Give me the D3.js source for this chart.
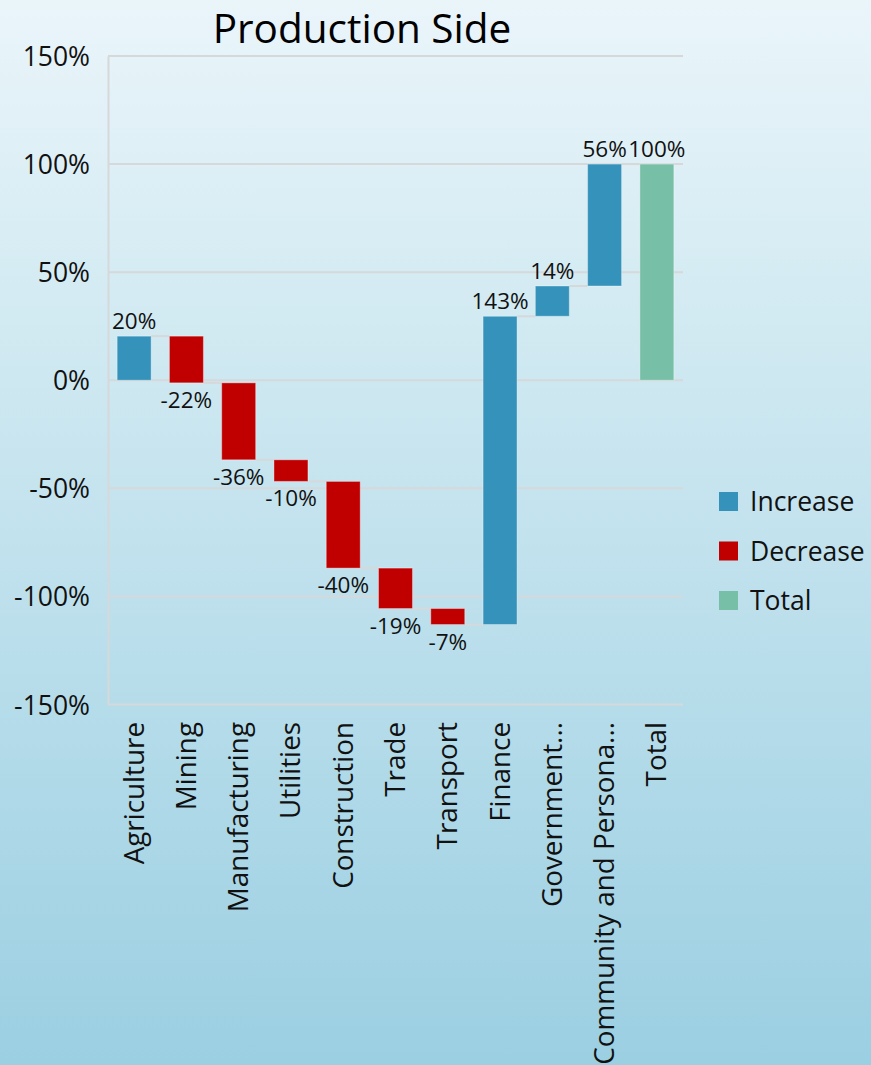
<!DOCTYPE html>
<html>
<head>
<meta charset="utf-8">
<script src="https://cdn.jsdelivr.net/npm/d3@7"></script>
<style>
  html, body { margin: 0; padding: 0; }
  body { width: 871px; height: 1065px; overflow: hidden; font-family: "Open Sans", sans-serif; }
</style>
</head>
<body>
<svg id="chart" width="871" height="1065"></svg>
<script>
// Contribution to growth by sector (share of total change)
const categories = ["Agriculture", "Mining", "Manufacturing", "Utilities", "Construction",
  "Trade", "Transport", "Finance", "Government...", "Community and Persona...", "Total"];
const changes = [20.4, -21.6, -35.6, -10.0, -40.1, -18.7, -7.4, 142.6, 14.0, 56.4, 100.0];
const kinds = ["Increase", "Decrease", "Decrease", "Decrease", "Decrease",
  "Decrease", "Decrease", "Increase", "Increase", "Increase", "Total"];
const yTicks = [-150, -100, -50, 0, 50, 100, 150];
const legendItems = ["Increase", "Decrease", "Total"];
const colors = { Increase: "#3593bb", Decrease: "#c00000", Total: "#77bfa7" };

const W = 871, H = 1065;
const plot = { left: 108, right: 683, top: 56, bottom: 704.5 };

const svg = d3.select("#chart");

// background gradient
const defs = svg.append("defs");
const grad = defs.append("linearGradient").attr("id", "bg")
  .attr("x1", 0).attr("y1", 0).attr("x2", 0).attr("y2", 1);
grad.append("stop").attr("offset", "0%").attr("stop-color", "#eaf5fa");
grad.append("stop").attr("offset", "30%").attr("stop-color", "#d2eaf2");
grad.append("stop").attr("offset", "100%").attr("stop-color", "#9bcfe2");
svg.append("rect").attr("width", W).attr("height", H).attr("fill", "url(#bg)");

// running levels for the waterfall
const rows = [];
let level = 0;
categories.forEach((c, i) => {
  if (kinds[i] === "Total") {
    rows.push({ cat: c, kind: kinds[i], v: changes[i], start: 0, end: changes[i] });
  } else {
    rows.push({ cat: c, kind: kinds[i], v: changes[i], start: level, end: level + changes[i] });
    level += changes[i];
  }
});

const x = d3.scaleBand().domain(categories).range([plot.left, plot.right]).paddingInner(0.35).paddingOuter(0.175);
const y = d3.scaleLinear().domain([-150, 150]).range([plot.bottom, plot.top]);

// gridlines
svg.append("g").selectAll("line").data(yTicks).join("line")
  .attr("x1", plot.left).attr("x2", plot.right)
  .attr("y1", d => y(d)).attr("y2", d => y(d))
  .attr("stroke", "#d6d8d9").attr("stroke-width", 2);

// y axis
const yAxis = d3.axisLeft(y).tickValues(yTicks).tickSize(0).tickPadding(18)
  .tickFormat(d => d + "%");
const gy = svg.append("g").attr("transform", `translate(${plot.left},0)`).call(yAxis);
gy.select(".domain").attr("stroke", "#d6d8d9").attr("stroke-width", 2);
gy.selectAll("text").attr("font-family", "Open Sans").attr("font-size", 26.5)
  .attr("fill", "#111").attr("dy", "0.36em");

// connectors between consecutive bars
const conn = [];
for (let i = 0; i < rows.length - 1; i++) {
  conn.push({ from: rows[i], to: rows[i + 1], lvl: rows[i].end });
}
svg.append("g").selectAll("line").data(conn).join("line")
  .attr("x1", d => x(d.from.cat) + x.bandwidth())
  .attr("x2", d => x(d.to.cat))
  .attr("y1", d => y(d.lvl)).attr("y2", d => y(d.lvl))
  .attr("stroke", "#d6d8d9").attr("stroke-width", 2);

// bars
svg.append("g").selectAll("rect").data(rows).join("rect")
  .attr("x", d => x(d.cat))
  .attr("width", x.bandwidth())
  .attr("y", d => y(Math.max(d.start, d.end)))
  .attr("height", d => Math.abs(y(d.start) - y(d.end)))
  .attr("fill", d => colors[d.kind])
  .attr("stroke", "rgba(255,255,255,0.35)").attr("stroke-width", 1);

// value labels
const fmt = d3.format(".0f");
svg.append("g").selectAll("text").data(rows).join("text")
  .attr("x", d => x(d.cat) + x.bandwidth() / 2)
  .attr("y", d => d.v >= 0 ? y(Math.max(d.start, d.end)) - 7 : y(Math.min(d.start, d.end)) + 25)
  .attr("text-anchor", "middle")
  .attr("font-family", "Open Sans").attr("font-size", 22.5).attr("fill", "#111")
  .text(d => fmt(d.v).replace("−", "-") + "%");

// category labels (rotated)
svg.append("g").selectAll("text").data(categories).join("text")
  .attr("transform", d => `translate(${x(d) + x.bandwidth() / 2 + 9.5},722) rotate(-90)`)
  .attr("text-anchor", "end")
  .attr("font-family", "Open Sans").attr("font-size", 27.8).attr("fill", "#111")
  .text(d => d);

// title
svg.append("text").attr("x", 362).attr("y", 43).attr("text-anchor", "middle")
  .attr("font-family", "Open Sans").attr("font-size", 40.5).attr("fill", "#000")
  .text("Production Side");

// legend
const lg = svg.append("g").attr("transform", "translate(719,492)");
const li = lg.selectAll("g").data(legendItems).join("g")
  .attr("transform", (d, i) => `translate(0,${i * 49.5})`);
li.append("rect").attr("width", 19).attr("height", 19).attr("fill", d => colors[d]);
li.append("text").attr("x", 31).attr("y", 9.5).attr("dy", "0.36em")
  .attr("font-family", "Open Sans").attr("font-size", 26.5).attr("fill", "#111")
  .text(d => d);
</script>
</body>
</html>
